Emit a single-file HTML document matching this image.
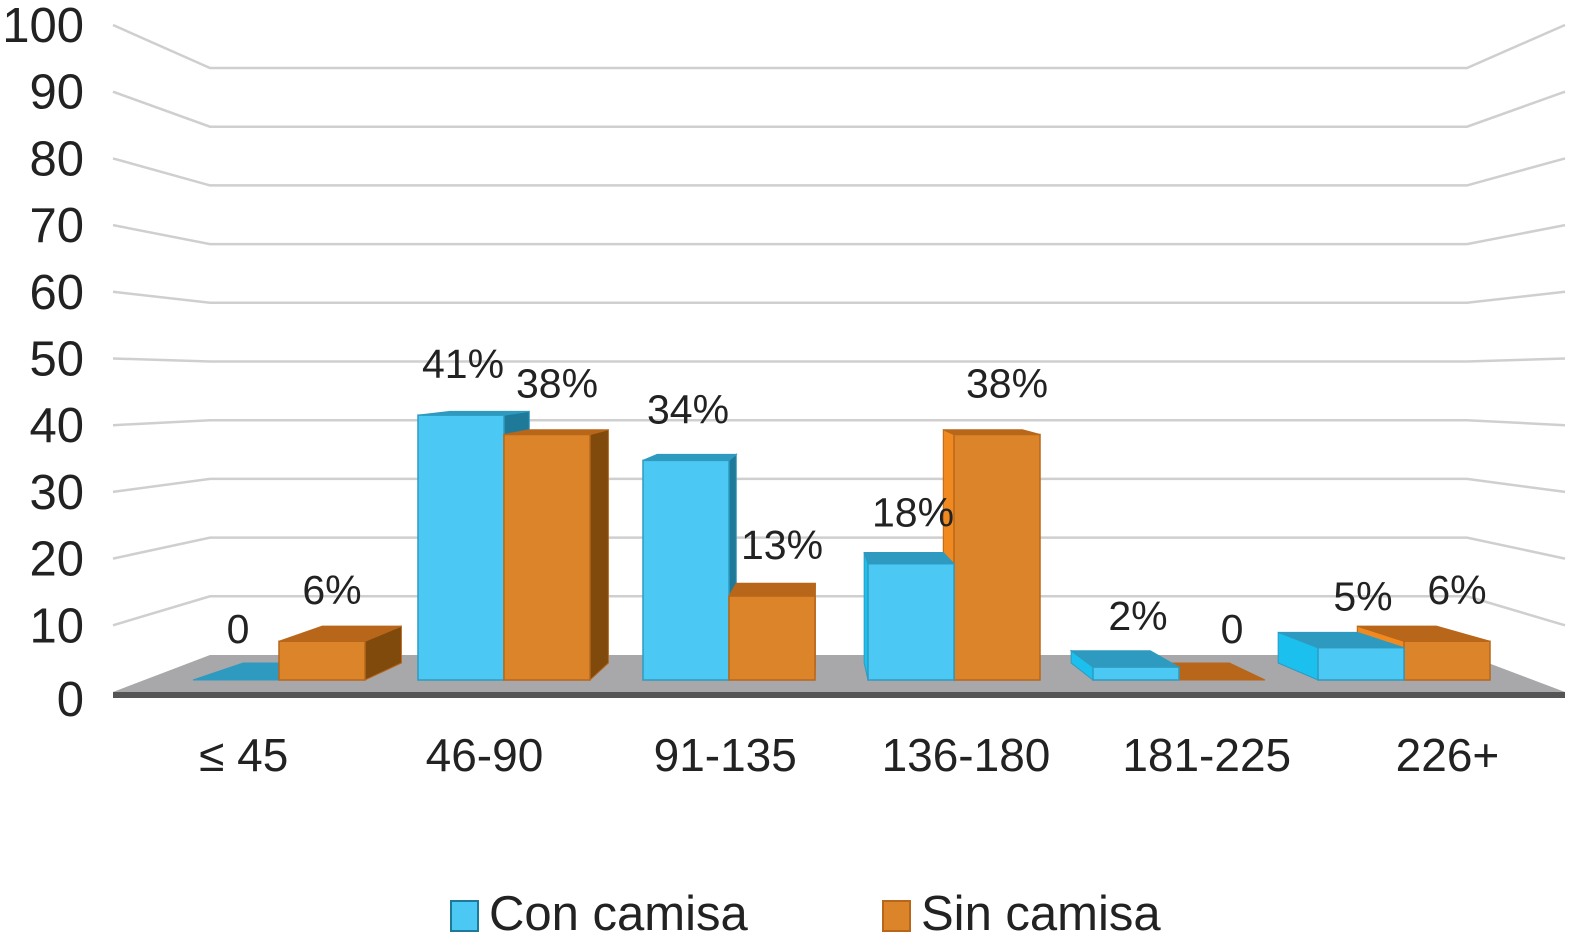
<!DOCTYPE html>
<html><head><meta charset="utf-8"><style>
html,body{margin:0;padding:0;background:#fff;}
svg{display:block;font-family:"Liberation Sans",Arial,sans-serif;}
</style></head><body>
<svg id="chart" width="1575" height="936" viewBox="0 0 1575 936" xmlns="http://www.w3.org/2000/svg">
<g id="grid"></g>
<g id="floor"></g>
<g id="bars"></g>
<g id="labels"></g>
<g id="yaxis"></g>
<g id="xaxis"></g>
<g>
  <rect x="451" y="901" width="27" height="30" fill="#4cc8f4" stroke="#1f7a9a" stroke-width="2"/>
  <text x="489" y="930" font-size="49" fill="#222">Con camisa</text>
  <rect x="883" y="901" width="27" height="30" fill="#dc8429" stroke="#b8661a" stroke-width="2"/>
  <text x="921" y="930" font-size="49" fill="#222">Sin camisa</text>
</g>
</svg>
<script>
const categories = ["≤ 45","46-90","91-135","136-180","181-225","226+"];
const conCamisa = [0,41,34,18,2,5];
const sinCamisa = [6,38,13,38,0,6];
const conLabels = ["0","41%","34%","18%","2%","5%"];
const sinLabels = ["6%","38%","13%","38%","0","6%"];
const yTicks = [0,10,20,30,40,50,60,70,80,90,100];

const NS="http://www.w3.org/2000/svg";
function mk(tag,attrs,parent){const e=document.createElementNS(NS,tag);for(const k in attrs)e.setAttribute(k,attrs[k]);parent.appendChild(e);return e;}
const grid=document.getElementById('grid'),floor=document.getElementById('floor'),bars=document.getElementById('bars'),labels=document.getElementById('labels'),yaxis=document.getElementById('yaxis'),xaxis=document.getElementById('xaxis');

const frontY=v=>692-v*6.67;
const backY=v=>655-v*5.87;
const barY=v=>680-v*6.46;
const catX=i=>193+i*225;
const barW=86;
const VX=820,KX=0.08,VY=340,KY=0.05;

yTicks.forEach(v=>{
  if(v===0) return;
  let l=mk('polyline',{points:`113,${frontY(v)} 210,${backY(v)} 1467,${backY(v)} 1565,${frontY(v)}`,fill:'none',stroke:'#cfcfcf','stroke-width':2.5},grid);
  
  
  let t=mk('text',{x:84,y:frontY(v)+17,'text-anchor':'end','font-size':49,fill:'#222'},yaxis);
  
  
  t.textContent=v;
});
let t0=mk('text',{x:84,y:frontY(0)+24,'text-anchor':'end','font-size':49,fill:'#222'},yaxis);


t0.textContent='0';

let fl=mk('polygon',{points:`210,${backY(0)} 1467,${backY(0)} 1565,${frontY(0)} 113,${frontY(0)}`,fill:'#a8a8aa'},floor);


let fe=mk('rect',{x:113,y:frontY(0),width:1452,height:6,fill:'#555'},floor);



function bar(x,v,cols,name){
  const g=mk('g',{},bars);
  
  
  const y0=barY(0),y1=barY(v),x1=x+barW;
  const dxL=(VX-x)*KX,dxR=(VX-x1)*KX,dyT=(VY-y1)*KY,dyB=(VY-y0)*KY;
  if(dxR>0){
    mk('polygon',{points:`${x1},${y1} ${x1+dxR},${y1+dyT} ${x1+dxR},${y0+dyB} ${x1},${y0}`,fill:cols[2],stroke:cols[1],'stroke-width':1},g);
  } else if(dxL<0){
    mk('polygon',{points:`${x},${y1} ${x+dxL},${y1+dyT} ${x+dxL},${y0+dyB} ${x},${y0}`,fill:cols[3],stroke:cols[1],'stroke-width':1},g);
  }
  mk('polygon',{points:`${x},${y1} ${x1},${y1} ${x1+dxR},${y1+dyT} ${x+dxL},${y1+dyT}`,fill:cols[1],stroke:cols[1],'stroke-width':1},g);
  if(v>0) mk('rect',{x:x,y:y1,width:barW,height:y0-y1,fill:cols[0],stroke:cols[1],'stroke-width':1.5},g);
}
const blue=['#4cc8f4','#2e9ac0','#1f7a9a','#1cc0ee'];
const orange=['#dc8429','#b8661a','#7f4a0c','#f08a20'];
categories.forEach((c,i)=>{
  const x=catX(i);
  if(x+barW<VX){
    bar(x,conCamisa[i],blue,'bar-con-'+i);
    bar(x+barW,sinCamisa[i],orange,'bar-sin-'+i);
  } else {
    bar(x+barW,sinCamisa[i],orange,'bar-sin-'+i);
    bar(x,conCamisa[i],blue,'bar-con-'+i);
  }
  let a=mk('text',{x:x+barW/2+2,y:barY(conCamisa[i])-37,'text-anchor':'middle','font-size':41,fill:'#222'},labels);
  
  
  a.textContent=conLabels[i];
  let b=mk('text',{x:x+barW*1.5+10,y:barY(sinCamisa[i])-37,'text-anchor':'middle','font-size':41,fill:'#222'},labels);
  
  
  b.textContent=sinLabels[i];
  const pc=x+barW;
  let cl=mk('text',{x:pc+(pc-840)*0.07+4,y:771,'text-anchor':'middle','font-size':46,fill:'#222'},xaxis);
  
  
  cl.textContent=c;
});
</script>
</body></html>
